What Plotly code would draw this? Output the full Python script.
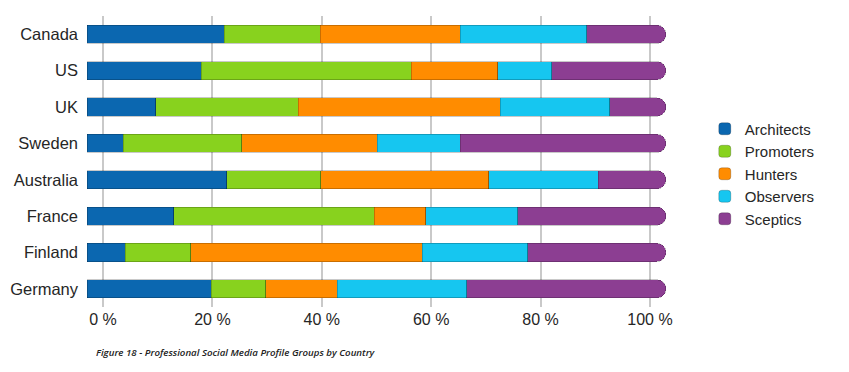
import plotly.graph_objects as go

countries = ["Canada", "US", "UK", "Sweden", "Australia", "France", "Finland", "Germany"]
groups = ["Architects", "Promoters", "Hunters", "Observers", "Sceptics"]
architects = [23.7, 19.7, 11.9, 6.3, 24.1, 15.0, 6.6, 21.5]
promoters = [16.6, 36.3, 24.6, 20.4, 16.3, 34.6, 11.3, 9.4]
hunters = [24.2, 14.9, 34.9, 23.4, 29.0, 8.9, 40.0, 12.3]
observers = [21.8, 9.4, 18.9, 14.4, 18.9, 15.9, 18.2, 22.4]
sceptics = [13.7, 19.7, 9.7, 35.5, 11.7, 25.6, 23.9, 34.4]
series = [architects, promoters, hunters, observers, sceptics]
colors = ["#0b67b0", "#88d21e", "#ff8c00", "#16c6f0", "#8c3e92"]
tick_vals = [0, 20, 40, 60, 80, 100]
tick_text = ["0 %", "20 %", "40 %", "60 %", "80 %", "100 %"]

FONT = "Liberation Sans"
TXT = "#262626"

fig = go.Figure()
for name, vals, col in zip(groups, series, colors):
    fig.add_trace(go.Bar(
        y=countries, x=vals, name=name, orientation="h",
        marker=dict(color=col, line=dict(width=0.6, color="rgba(0,0,0,0.35)")),
        xaxis="x", yaxis="y",
    ))

# axis carrier for the percentage scale (gridlines / ticks)
fig.add_trace(go.Scatter(
    x=[tick_vals[0], tick_vals[-1]], y=[countries[0], countries[0]],
    mode="markers", marker=dict(opacity=0), showlegend=False,
    hoverinfo="skip", xaxis="x2", yaxis="y",
))

fig.update_layout(
    width=849, height=372,
    margin=dict(l=79, r=191, t=8, b=73, autoexpand=False),
    paper_bgcolor="white", plot_bgcolor="white",
    barmode="stack", bargap=0.5, barcornerradius=9,
    font=dict(family=FONT, size=16, color=TXT),
    xaxis=dict(range=[0, 100], showgrid=False, zeroline=False,
               showticklabels=False, showline=False, ticks="",
               automargin=False),
    xaxis2=dict(overlaying="x", side="bottom", range=[-2.925, 102.925],
                tickvals=tick_vals, ticktext=tick_text, showgrid=True,
                gridcolor="#c9c9c9", gridwidth=1.5, zeroline=False,
                showline=False, ticks="", ticklabelstandoff=1,
                automargin=False,
                tickfont=dict(family=FONT, size=16, color=TXT)),
    yaxis=dict(categoryorder="array", categoryarray=countries[::-1],
               showgrid=False, zeroline=False, showline=False, ticks="",
               ticklabelstandoff=8, automargin=False,
               tickfont=dict(family=FONT, size=16.5, color=TXT)),
    legend=dict(x=1.067, xanchor="left", y=0.457, yanchor="middle",
                font=dict(family=FONT, size=15, color=TXT),
                traceorder="normal", bgcolor="rgba(0,0,0,0)"),
    annotations=[dict(
        text="Figure 18 - Professional Social Media Profile Groups by Country",
        xref="paper", yref="paper", x=0.012, y=-0.155,
        xanchor="left", yanchor="middle", showarrow=False,
        font=dict(family="Open Sans", size=9.7, color="#222222",
                  style="italic", weight=600),
    )],
)

fig.write_html("out.html")
